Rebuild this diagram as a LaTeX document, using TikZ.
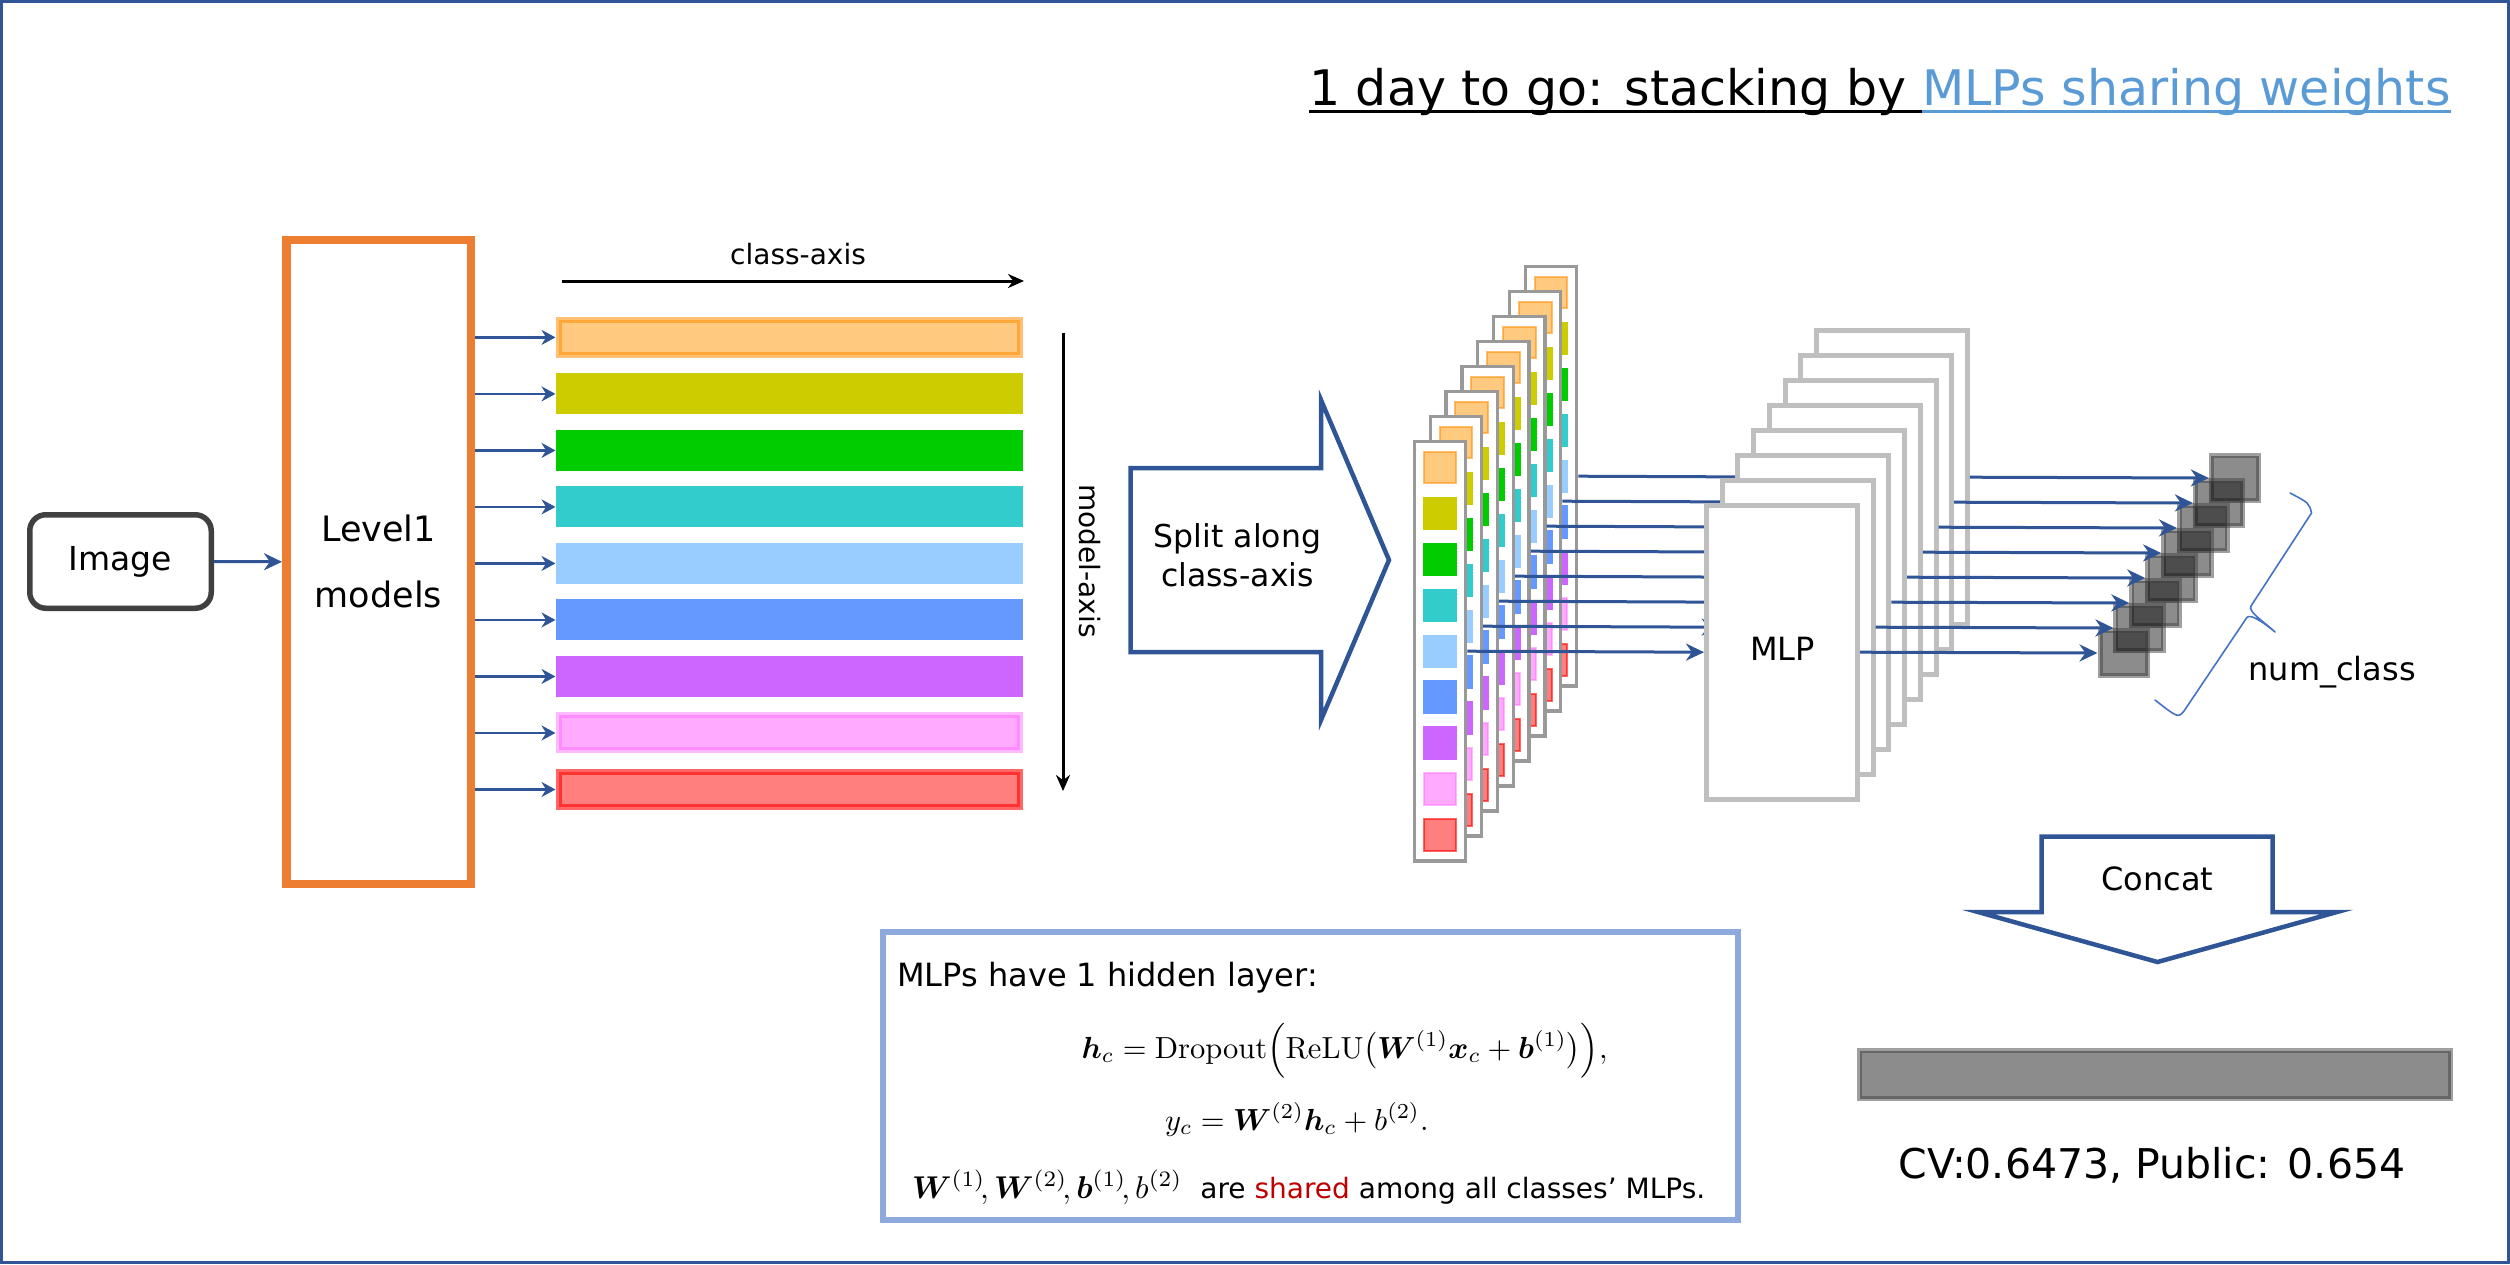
\documentclass[tikz,border=0pt]{standalone}
\usepackage{amsmath}
\usepackage{bm}
\usepackage{graphicx}
\usepackage[no-math]{fontspec}
\setmainfont{DejaVu Sans}
\usetikzlibrary{arrows.meta,calc}
\definecolor{dblue}{HTML}{2F5597}
\definecolor{lorange}{HTML}{ED7D31}
\definecolor{titleblue}{HTML}{5B9BD5}
\definecolor{boxblue}{HTML}{8EA9DB}
\definecolor{bracecol}{HTML}{4472C4}
\definecolor{sharedred}{HTML}{C00000}
\definecolor{imgray}{HTML}{404040}
\definecolor{cardgray}{HTML}{999999}
\definecolor{mlpgray}{HTML}{BFBFBF}
\definecolor{darkg}{HTML}{404040}
\definecolor{cA}{HTML}{FFC97F}
\definecolor{sA}{HTML}{FF8C00}
\definecolor{cB}{HTML}{CCCC00}
\definecolor{cC}{HTML}{00CC00}
\definecolor{cD}{HTML}{33CCCC}
\definecolor{cE}{HTML}{99CCFF}
\definecolor{cF}{HTML}{6699FF}
\definecolor{cG}{HTML}{CC66FF}
\definecolor{cH}{HTML}{FFAAFF}
\definecolor{sH}{HTML}{FF66FF}
\definecolor{cI}{HTML}{FF7F7F}
\definecolor{sI}{HTML}{FF0000}
\newcommand\fsz[2]{\fontsize{#1}{#2}\selectfont}
\pgfdeclarelayer{stack}
\pgfdeclarelayer{links}
\pgfsetlayers{stack,links,main}
\begin{document}
\begin{tikzpicture}[x=1pt,y=-1pt,
  every node/.style={inner sep=0pt},
  imgbox/.style={draw=imgray, line width=5.5pt, rounded corners=16pt, minimum width=181.5pt, minimum height=93.5pt, fill=white, font=\fsz{33}{40}},
  lvbox/.style={draw=lorange, line width=8.5pt, minimum width=184.5pt, minimum height=644pt, align=center, font=\fsz{35}{66}},
  bar/.style={line width=6pt, minimum width=461.5pt, minimum height=35pt},
  card/.style={draw=cardgray, line width=3.3pt, fill=white, minimum width=51.3pt, minimum height=419.7pt},
  cardsq/.style={line width=2pt, minimum width=32.7pt, minimum height=31.4pt},
  mlpcard/.style={draw=mlpgray, line width=5pt, fill=white, minimum width=151pt, minimum height=294pt},
  outsq/.style={fill=black, fill opacity=0.45, draw=darkg, draw opacity=0.5, line width=5pt, minimum width=47.5pt, minimum height=45pt},
  conn/.style={draw=dblue, line width=3pt, -{Stealth[length=18pt,width=17pt]}},
  thinconn/.style={draw=dblue, line width=2.2pt, -{Stealth[length=14pt,width=15pt]}},
  axisarrow/.style={draw=black, line width=3pt, -{Stealth[length=16pt,width=14pt]}},
  bigarrow/.style={draw=dblue, line width=4.5pt, fill=white, line join=miter},
  lbl/.style={font=\fsz{32}{38}}
]
\useasboundingbox (0,0) rectangle (2510,1264);
\draw[dblue, line width=3pt] (1.5,1.5) rectangle (2508.5,1262.5);

% title
\node[anchor=base west, font=\fsz{49}{58}] (t1) at (1309,105) {1 day to go: stacking by\ \mbox{}};
\node[anchor=base west, font=\fsz{49}{58}, text=titleblue] (t2) at (t1.base east) {MLPs sharing weights};
\draw[black, line width=3pt] ([yshift=-6pt]t1.base west) -- ([yshift=-6pt]t1.base east);
\draw[titleblue, line width=3pt] ([yshift=-6pt]t2.base west) -- ([yshift=-6pt]t2.base east);

% image and level1
\node[imgbox] (img) at (120.5,561.5) {Image};
\node[lvbox] (L) at (378.5,561.8) {Level1\\models};
\draw[conn, line width=3pt] (img.east) -- (L.west);

% bars
\foreach \f/\d/\o [count=\j from 0] in {cA/sA/0.55, cB/cB/1, cC/cC/1, cD/cD/1, cE/cE/1, cF/cF/1, cG/cG/1, cH/sH/0.45, cI/sI/0.6} {
  \node[bar, fill=\f, draw=\d, draw opacity=\o] (b\j) at (789.25,{337.4+56.51*\j}) {};
  \draw[thinconn] (L.east |- b\j.west) -- (b\j.west);
}

% axes
\coordinate (ca1) at (562,281);
\coordinate (ca2) at (1024,281);
\draw[axisarrow] (ca1) -- (ca2);
\node[anchor=base, font=\fsz{28}{34}] (calab) at (798,264.6) {class-axis};
\coordinate (ma1) at (1063,332.5);
\coordinate (ma2) at (1063,791);
\draw[axisarrow] (ma1) -- (ma2);
\node[rotate=-90, font=\fsz{28}{34}] (malab) at (1090,561) {model-axis};

% split arrow
\draw[bigarrow] (1130.5,468) -- (1321,468) -- (1321,400) -- (1389,560) -- (1321,720) -- (1321,652) -- (1130.5,652) -- cycle;
\node[align=center, font=\fsz{31.5}{39}] (split) at (1237.5,555.5) {Split along\\class-axis};

% card stack
\begin{pgfonlayer}{stack}
\foreach \k in {8,7,...,1} {
  \node[card] (c\k) at ({1440+15.86*(\k-1)},{651.2-25*(\k-1)}) {};
  \foreach \f/\d/\o [count=\j from 0] in {cA/sA/0.55, cB/cB/1, cC/cC/1, cD/cD/1, cE/cE/1, cF/cF/1, cG/cG/1, cH/sH/0.45, cI/sI/0.6} {
    \node[cardsq, fill=\f, draw=\d, draw opacity=\o] (c\k s\j) at ($(c\k.center)+(0,{-183.6+45.9*\j})$) {};
  }
}
\end{pgfonlayer}

% MLP cards
\foreach \k in {8,7,...,1} {
  \node[mlpcard] (m\k) at ({1782+15.7*(\k-1)},{652.2-25*(\k-1)}) {};
}
\node[anchor=base, lbl] (mlptxt) at (1782.4,660) {MLP};

\begin{pgfonlayer}{links}
\foreach \k in {1,...,8} {
  \draw[conn] (c\k.east) -- (m\k.west);
}
\end{pgfonlayer}

% outputs
\foreach \k in {8,7,...,1} {
  \node[outsq] (o\k) at ({2123.75+15.9*(\k-1)},{653-25*(\k-1)}) {};
}
\foreach \k in {1,...,8} {
  \draw[conn] (m\k.east) -- (o\k.west);
}

% brace
\coordinate (br1) at (2290,493);
\coordinate (br2) at (2155,700);
\coordinate (brtip) at (2275,632);
\draw[bracecol, line width=1.6pt, line join=round, line cap=round]
  (br1) .. controls (2309,503) .. (2311.5,513)
  -- (2251,606)
  .. controls (2248,612) and (2262,620) .. (brtip)
  .. controls (2262,621) and (2249,613) .. (2246.5,618)
  -- (2184,711)
  .. controls (2178,718) .. (br2);
\node[anchor=base west, lbl] (numc) at (2248.3,680) {num\_class};

% concat
\draw[bigarrow] (2041.5,836.5) -- (2272.5,836.5) -- (2272.5,912) -- (2337,912) -- (2157.5,962) -- (1978,912) -- (2041.5,912) -- cycle;
\node[anchor=base, lbl] (concat) at (2157.5,890) {Concat};
\node[outsq, minimum width=591pt, minimum height=48pt] (cbar) at (2155,1074.5) {};
\node[anchor=base, font=\fsz{41}{49}] (cv) at (2152,1178) {CV:0.6473, Public: 0.654};

% formula box
\node[draw=boxblue, line width=6pt, minimum width=855pt, minimum height=288pt, fill=white] (fbox) at (1310.5,1076) {};
\node[anchor=base west, lbl] (fl1) at (897,986.7) {MLPs have 1 hidden layer:};
\node[anchor=base, font=\normalsize] (fl2) at (1344.5,1058) {\scalebox{3.05}{$\bm{h}_c = \mathrm{Dropout}\Bigl(\mathrm{ReLU}\bigl(\bm{W}^{(1)}\bm{x}_c + \bm{b}^{(1)}\bigr)\Bigr),$}};
\node[anchor=base, font=\normalsize] (fl3) at (1296.8,1130) {\scalebox{3.05}{$y_c = \bm{W}^{(2)}\bm{h}_c + b^{(2)}.$}};
\node[anchor=base west, font=\fsz{28}{34}] (fl4) at (912,1198) {\scalebox{3.15}{\normalsize$\bm{W}^{(1)}\!, \bm{W}^{(2)}\!, \bm{b}^{(1)}\!, b^{(2)}$}\ \ are \textcolor{sharedred}{shared} among all classes’ MLPs.};
\end{tikzpicture}
\end{document}
